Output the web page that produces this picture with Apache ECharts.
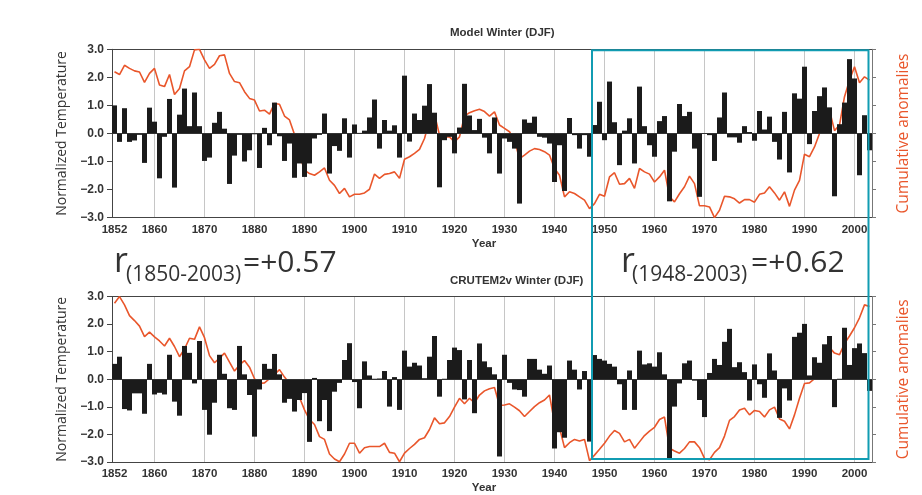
<!DOCTYPE html>
<html><head><meta charset="utf-8">
<script src="https://cdn.jsdelivr.net/npm/echarts@6/dist/echarts.min.js"></script>
<style>html,body{margin:0;padding:0;background:#fff}#c{width:922px;height:495px}</style>
</head><body><div id="c"></div>
<script>
// Categories: winters 1852..2003
const years = [];
for (let y = 1852; y <= 2003; y++) years.push(String(y));

// Model Winter (DJF): normalized temperature anomalies (bars)
const modelBars = [
  1.0, -0.3, 0.9, -0.3, -0.25, -0.05, -1.05, 0.92,
  0.42, -1.6, -0.12, 1.23, -1.93, 0.67, 1.6, 0.26, 1.46, 0.26,
  -0.98, -0.86, 0.38, 0.77, 0.17, -1.8, -0.79, -0.05, -1.0, -0.6,
  -0.03, -1.23, 0.2, -0.42, 1.1, -0.1, -0.98, -0.36, -1.58, -1.07,
  -1.55, -1.07, -0.18, -0.05, 0.71, -1.43, -0.45, -0.62, 0.54, -0.86,
  0.32, 0.02, 0.1, 0.57, 1.21, -0.54, 0.48, 0.1, 0.29, -0.86,
  2.06, -0.29, 0.71, 0.48, 0.99, 1.76, 0.74, -1.92, -0.24, -0.12,
  -0.71, 0.21, 1.77, 0.64, 0.12, 0.52, -0.15, -0.71, 0.57, -1.43,
  -0.18, -0.3, -0.54, -2.5, 0.5, 0.38, 0.6, -0.12, -0.15, -0.36,
  -1.73, -0.42, -2.05, 0.55, -0.06, -0.54, -0.06, -0.83, 0.3, 1.13,
  -0.24, 1.85, 0.4, -1.13, 0.1, 0.54, -1.07, 1.67, 0.26, -0.42,
  -0.83, 0.44, 0.62, -2.42, -0.65, 1.05, 0.62, 0.77, -0.54, -2.26,
  0.0, -0.06, -0.98, 0.57, 1.46, -0.14, -0.14, -0.33, 0.26, 0.05,
  -0.26, 0.8, 0.14, 0.6, -0.3, -0.93, 0.77, -1.39, 1.43, 1.24,
  2.38, -0.38, 0.8, 1.33, 1.64, 0.93, -2.24, 0.33, 1.1, 2.65,
  1.96, -1.49, 0.65, -0.6
];
// Model Winter: cumulative anomalies (line, read on the same -3..3 frame)
const modelCum = [
  2.2, 2.1, 2.43, 2.32, 2.23, 2.19, 1.82, 2.14,
  2.32, 1.73, 1.67, 2.1, 1.39, 1.6, 2.23, 2.38, 2.98, 3.0,
  2.62, 2.32, 2.46, 2.77, 2.8, 2.14, 1.85, 1.81, 1.49, 1.25,
  1.19, 0.8, 0.83, 0.69, 1.07, 1.04, 0.62, 0.48, -0.04, -0.75,
  -1.31, -1.43, -1.49, -1.37, -1.23, -1.67, -1.85, -2.14, -1.96, -2.26,
  -2.17, -2.17, -2.12, -1.99, -1.45, -1.6, -1.46, -1.43, -1.37, -1.6,
  -0.92, -0.83, -0.71, -0.57, -0.18, 0.48, 0.69, -0.06, -0.14, -0.12,
  -0.3, -0.12, 0.62, 0.74, 0.81, 0.86, 0.78, 0.62, 0.77, 0.3,
  0.18, 0.06, -0.24, -0.9, -0.77, -0.63, -0.54, -0.57, -0.65, -0.77,
  -1.25, -1.49, -2.26, -2.08, -2.14, -2.26, -2.38, -2.68, -2.5, -2.17,
  -2.24, -1.55, -1.4, -1.81, -1.79, -1.6, -1.96, -1.25, -1.37, -1.45,
  -1.73, -1.55, -1.31, -2.26, -2.44, -2.15, -1.9, -1.52, -1.79, -2.58,
  -2.58, -2.62, -3.0, -2.74, -2.24, -2.26, -2.33, -2.48, -2.36, -2.36,
  -2.45, -2.17, -2.12, -1.9, -2.12, -2.38, -2.08, -2.6, -2.02, -1.67,
  -0.74, -0.83, -0.48, 0.0, 0.36, 0.83, 0.1, 0.3, 1.31, 1.9,
  2.38, 1.81, 2.02, 1.9
];
// CRUTEM2v Winter (DJF): normalized temperature anomalies (bars)
const crutemBars = [
  0.56, 0.82, -1.08, -1.13, -0.51, -0.51, -1.25, 0.56,
  -0.55, -0.49, -0.55, 0.89, -0.81, -1.32, 1.21, 0.96, -0.15, 1.39,
  -1.11, -2.01, -0.85, 0.89, 0.2, -1.05, -1.11, 1.21, 0.18, -0.57,
  -2.08, -0.37, 0.56, 0.38, 0.92, 0.18, -0.85, -0.71, -1.17, -0.75,
  -0.5, -2.27, 0.05, -1.52, -0.75, -1.88, -0.45, -0.13, 0.7, 1.31,
  -0.1, -1.05, 0.65, 0.14, 0.02, 0.03, 0.3, -0.99, 0.08, -1.11,
  1.04, 0.46, 0.6, 0.5, 0.04, 0.82, 1.57, -0.63, 0.02, 0.7,
  1.15, 1.06, -0.73, 0.7, -1.23, 1.3, 0.65, 0.44, 0.18, -2.8,
  0.89, -0.13, -0.37, -0.39, -0.63, 0.74, 0.74, 0.35, 0.2, 0.5,
  -2.51, -1.92, -2.12, 0.68, 0.35, -0.37, 0.3, -2.26, 0.88, 0.74,
  0.68, 0.56, 0.46, -0.18, -1.11, 0.32, -1.11, 1.04, 0.54, 0.58,
  0.46, 0.98, 0.18, -2.87, -0.99, -0.15, 0.58, 0.68, -0.05, -0.75,
  -1.37, 0.23, 0.74, 0.52, 1.36, 1.83, 0.44, 0.62, 0.26, -0.77,
  0.54, -0.18, -0.67, 0.94, 0.32, -1.4, -0.33, -0.77, 1.54, 1.69,
  2.01, 0.14, 0.8, 0.6, 1.27, 1.57, -1.01, 0.02, 1.87, 0.52,
  1.13, 1.3, 0.95, -0.42
];
// CRUTEM2v Winter: cumulative anomalies (line)
const crutemCum = [
  2.76, 3.0, 2.7, 2.31, 2.13, 1.93, 1.55, 1.71,
  1.54, 1.39, 1.21, 1.49, 1.19, 0.82, 1.1, 1.49, 1.45, 1.9,
  1.51, 0.86, 0.6, 0.77, 0.95, 0.62, 0.3, 0.52, 0.68, 0.44,
  0.02, -0.15, -0.13, 0.02, 0.18, 0.35, 0.08, -0.15, -0.45, -0.66,
  -1.11, -1.46, -1.64, -2.08, -2.18, -2.71, -2.89, -2.99, -2.71, -2.32,
  -2.32, -2.68, -2.48, -2.44, -2.44, -2.44, -2.32, -2.65, -2.68, -2.99,
  -2.68, -2.51, -2.36, -2.18, -2.12, -1.82, -1.4, -1.61, -1.58, -1.35,
  -1.01, -0.69, -0.89, -0.69, -0.85, -0.57, -0.42, -0.34, -0.3, -0.95,
  -0.93, -0.89, -1.01, -1.14, -1.35, -1.17, -0.99, -0.85, -0.75, -0.57,
  -1.58, -1.76, -2.48, -2.3, -2.18, -2.24, -2.18, -2.95, -2.75, -2.54,
  -2.32, -2.06, -1.86, -1.96, -2.27, -2.18, -2.5, -2.27, -2.04, -1.88,
  -1.74, -1.46, -1.37, -2.5, -2.6, -2.68, -2.51, -2.27, -2.27, -2.48,
  -2.87, -2.92, -2.65, -2.48, -2.06, -1.49, -1.35, -1.11, -1.05, -1.29,
  -1.13, -1.17, -1.37, -1.11, -1.01, -1.44, -1.52, -1.8, -1.29, -0.69,
  -0.15, -0.13, 0.02, 0.26, 0.7, 1.15, 0.95, 0.89, 1.3, 1.57,
  1.87, 2.23, 2.7, 2.64
];
// Axis range / tick labels
const yMin = -3, yMax = 3, yStep = 1;
const panelTitles = ['Model Winter (DJF)', 'CRUTEM2v Winter (DJF)'];
const corrSymbol = 'r';
const corrPeriods = ['(1850-2003)', '(1948-2003)'];
const corrValues = ['=+0.57', '=+0.62'];
const boxFrom = '1948', boxTo = '2003';

const LABEL_FONT = 'Liberation Sans, Arial, sans-serif';
const SANS = 'Open Sans, sans-serif';
const BAR_COLOR = '#1b1b1b';
const LINE_COLOR = '#e9562b';
const AXIS_COLOR = '#444';
const BOX_COLOR = '#119cb2';

const chart = echarts.init(document.getElementById('c'), null, {renderer: 'canvas'});

const gridsPos = [
  {left: 112, top: 49.3, width: 760, height: 168.3},
  {left: 112, top: 296.6, width: 760, height: 167.7}
];
const fmtY = v => (v < 0 ? '\u2212' : '') + Math.abs(v).toFixed(1);
const isLabelYear = (i, v) => v === years[0] || (+v) % 10 === 0;

const xAxes = [], yAxes = [], series = [];
[[modelBars, modelCum], [crutemBars, crutemCum]].forEach((pair, i) => {
  xAxes.push({
    type: 'category', gridIndex: i, data: years, position: 'bottom', boundaryGap: true,
    axisLine: {onZero: false, lineStyle: {color: AXIS_COLOR, width: 1}},
    axisTick: {interval: 0, alignWithLabel: true, length: 3, lineStyle: {color: AXIS_COLOR}},
    axisLabel: {interval: isLabelYear, margin: 6, fontSize: 11.5, fontWeight: 'bold', color: '#333', fontFamily: LABEL_FONT},
    splitLine: {show: true, interval: (idx, v) => (+v) % 10 === 0, alignWithLabel: true, lineStyle: {color: '#c6c6c6', width: 1}},
    name: 'Year', nameLocation: 'middle', nameGap: 20,
    nameTextStyle: {fontSize: 11.5, fontWeight: 'bold', color: '#333', fontFamily: LABEL_FONT, padding: [0, 16, 0, 0]}
  });
  xAxes.push({
    type: 'category', gridIndex: i, data: years, position: 'top', boundaryGap: true,
    axisLine: {onZero: false, lineStyle: {color: AXIS_COLOR, width: 1}},
    axisTick: {interval: 0, alignWithLabel: true, length: 3, lineStyle: {color: AXIS_COLOR}},
    axisLabel: {show: false}, splitLine: {show: false}
  });
  yAxes.push({
    type: 'value', gridIndex: i, min: yMin, max: yMax, interval: yStep, position: 'left',
    axisLine: {show: true, onZero: false, lineStyle: {color: AXIS_COLOR}},
    axisTick: {show: true, length: 5, lineStyle: {color: AXIS_COLOR}},
    axisLabel: {formatter: fmtY, fontSize: 12, fontWeight: 'bold', color: '#333', fontFamily: LABEL_FONT, margin: 8},
    splitLine: {show: false},
    name: 'Normalized Temperature', nameLocation: 'middle', nameGap: 40, nameRotate: 90,
    nameTextStyle: {fontFamily: SANS, fontSize: 14, color: '#333'}
  });
  yAxes.push({
    type: 'value', gridIndex: i, min: yMin, max: yMax, interval: yStep, position: 'right',
    axisLine: {show: true, onZero: false, lineStyle: {color: '#777'}},
    axisTick: {show: true, length: 4, lineStyle: {color: '#777'}},
    axisLabel: {show: false}, splitLine: {show: false},
    name: 'Cumulative anomalies', nameLocation: 'middle', nameGap: 24, nameRotate: 90,
    nameTextStyle: {fontFamily: SANS, fontSize: 15.5, color: LINE_COLOR}
  });
  series.push({
    type: 'line', xAxisIndex: 2 * i, yAxisIndex: 2 * i + 1, data: pair[1],
    symbol: 'none', z: 2, lineStyle: {color: LINE_COLOR, width: 1.6}
  });
  series.push({
    type: 'bar', xAxisIndex: 2 * i, yAxisIndex: 2 * i, data: pair[0],
    barCategoryGap: '0%', z: 3, itemStyle: {color: BAR_COLOR},
    markLine: {silent: true, symbol: 'none', label: {show: false}, animation: false,
      lineStyle: {color: '#333', width: 1, type: 'solid'}, data: [{yAxis: 0}]}
  });
});

chart.setOption({
  animation: false,
  backgroundColor: '#ffffff',
  grid: gridsPos,
  xAxis: xAxes,
  yAxis: yAxes,
  series: series
});

// Annotations positioned from the axes
const px = (xi, cat) => chart.convertToPixel({xAxisIndex: xi}, cat);
const py = (yi, v) => chart.convertToPixel({yAxisIndex: yi}, v);
const band = gridsPos[0].width / years.length;
const boxLeft = px(0, boxFrom) - band / 2;
const boxRight = px(0, boxTo) - 1;
const boxTop = py(0, yMax) + 1;
const boxBottom = py(2, yMin) - 3;

const graphics = [];
panelTitles.forEach((t, i) => {
  graphics.push({type: 'text', x: 450, y: i === 0 ? 33 : 281, silent: true,
    style: {text: t, fill: '#333', font: 'bold 11.5px ' + LABEL_FONT, align: 'left', verticalAlign: 'middle'}});
});
const corrX = [[114, 126, 243], [621, 632, 751]];
corrPeriods.forEach((p, i) => {
  const xs = corrX[i];
  graphics.push({type: 'text', x: xs[0], y: 262, silent: true,
    style: {text: corrSymbol, fill: '#333', font: '34px ' + SANS, align: 'left', verticalAlign: 'middle'}});
  graphics.push({type: 'text', x: xs[1], y: 275, silent: true,
    style: {text: p, fill: '#333', font: '21px ' + SANS, align: 'left', verticalAlign: 'middle'}});
  graphics.push({type: 'text', x: xs[2], y: 263.5, silent: true,
    style: {text: corrValues[i], fill: '#333', font: '30px ' + SANS, align: 'left', verticalAlign: 'middle'}});
});
graphics.push({type: 'rect', silent: true, z: 100,
  shape: {x: boxLeft, y: boxTop, width: boxRight - boxLeft, height: boxBottom - boxTop},
  style: {fill: 'none', stroke: BOX_COLOR, lineWidth: 2}});
chart.setOption({graphic: graphics});
</script>
</body></html>
